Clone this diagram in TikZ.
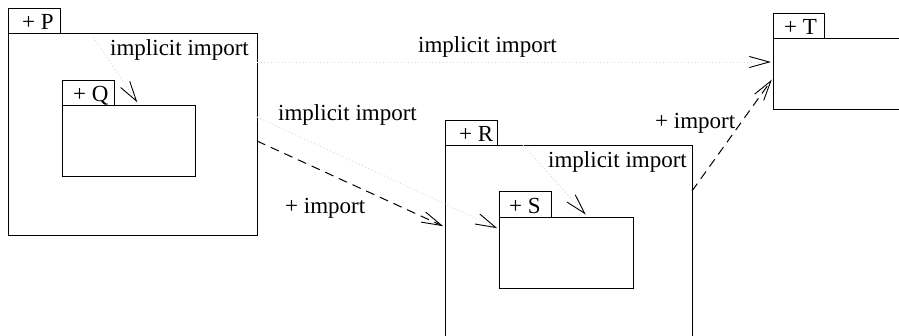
\documentclass[tikz,border=0pt]{standalone}
\usepackage{fontspec}
\setmainfont{Liberation Serif}
\usetikzlibrary{arrows.meta}
\begin{document}
\begin{tikzpicture}[x=1pt,y=-1pt,
  box/.style={draw, line width=1pt, inner sep=0pt, outer sep=0pt, anchor=north west},
  lbl/.style={font=\fontsize{23}{27}\selectfont, inner sep=0pt, anchor=base west},
  dep/.style={line width=1pt, shorten >=2pt, -{Straight Barb[length=20pt,width=11pt,color=black,line width=0.9pt]}},
  implicit/.style={dep, draw=black!14, dash pattern=on 1pt off 2.5pt},
  imp/.style={dep, dash pattern=on 9pt off 6pt},
]
\useasboundingbox (0,0) rectangle (899,335);
% packages
\node[box, minimum width=249pt, minimum height=202pt] (P) at (8,33) {};
\node[box, minimum width=52pt, minimum height=25pt] (Ptab) at (8,8) {};
\node[box, minimum width=133pt, minimum height=71pt] (Q) at (62.5,105) {};
\node[box, minimum width=52pt, minimum height=25pt] (Qtab) at (62.5,80) {};
\node[box, minimum width=247pt, minimum height=215pt] (R) at (445,145) {};
\node[box, minimum width=52pt, minimum height=25pt] (Rtab) at (445,120) {};
\node[box, minimum width=134pt, minimum height=71pt] (S) at (499,217) {};
\node[box, minimum width=52pt, minimum height=26pt] (Stab) at (499,191) {};
\node[box, minimum width=140pt, minimum height=71pt] (T) at (773,38) {};
\node[box, minimum width=51pt, minimum height=25pt] (Ttab) at (773,13) {};
% names
\node[lbl] (Pname) at (22,29) {+ P};
\node[lbl] (Qname) at (73,101) {+ Q};
\node[lbl] (Rname) at (459,141) {+ R};
\node[lbl] (Sname) at (509,213) {+ S};
\node[lbl] (Tname) at (784,34) {+ T};
% connectors
\coordinate (qsrc) at (93,37);
\draw[implicit] ([yshift=-29pt]P.north east) -- ([yshift=-24pt]T.north west);
\draw[implicit] (qsrc) -- ([xshift=76pt,yshift=1pt]Q.north west);
\draw[implicit] ([yshift=-84pt]P.north east) -- ([yshift=-12pt]S.north west);
\draw[imp] ([yshift=-108pt]P.north east) -- ([yshift=-82pt]R.north west);
\draw[imp] ([yshift=-46pt]R.north east) -- ([yshift=-40pt]T.north west);
\draw[implicit] ([xshift=78pt]R.north west) -- ([xshift=88pt,yshift=1pt]S.north west);
% labels
\node[lbl] (lPQ) at (110,55) {implicit import};
\node[lbl] (lPT) at (418,52) {implicit import};
\node[lbl] (lPS) at (278,120) {implicit import};
\node[lbl] (lPR) at (285,213) {+ import};
\node[lbl] (lRT) at (655,128) {+ import};
\node[lbl] (lRS) at (548,167) {implicit import};
\end{tikzpicture}
\end{document}
